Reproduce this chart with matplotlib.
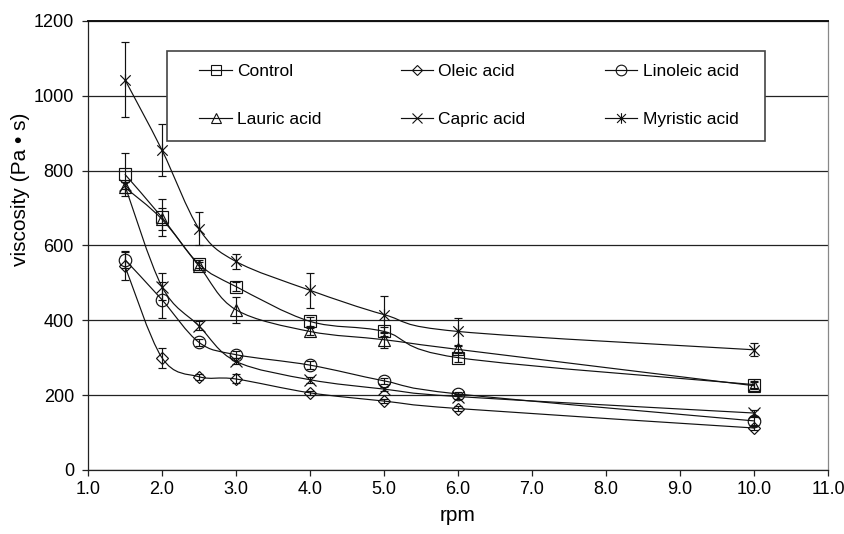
import numpy as np
import matplotlib
matplotlib.use("Agg")
import matplotlib.pyplot as plt
from matplotlib.path import Path
from matplotlib.patches import PathPatch, Rectangle
from matplotlib.lines import Line2D

plt.rcParams['font.family'] = ['Liberation Sans', 'DejaVu Sans']

# data
rpm = [1.5, 2.0, 2.5, 3.0, 4.0, 5.0, 6.0, 10.0]

control = [790, 675, 550, 490, 397, 370, 300, 228]
control_err = [57, 50, 10, 12, 12, 12, 12, 10]

oleic = [545, 300, 249, 243, 206, 184, 164, 112]
oleic_err = [38, 27, 8, 12, 6, 6, 6, 6]

linoleic = [562, 455, 341, 308, 280, 238, 203, 131]
linoleic_err = [22, 48, 10, 10, 10, 8, 6, 10]

lauric = [755, 670, 545, 428, 370, 348, 322, 225]
lauric_err = [15, 30, 10, 35, 10, 21, 10, 10]

capric = [760, 490, 385, 290, 241, 216, 196, 152]
capric_err = [10, 37, 12, 8, 8, 6, 6, 8]

myristic = [1043, 855, 645, 557, 480, 415, 370, 321]
myristic_err = [100, 70, 45, 19, 47, 50, 35, 17]

names = ['Control', 'Oleic acid', 'Linoleic acid',
         'Lauric acid', 'Capric acid', 'Myristic acid']

# x with a vertical bar, like the spreadsheet "star" marker
star = Path([(-1, -1), (1, 1), (-1, 1), (1, -1), (0, -1.2), (0, 1.2)],
            [Path.MOVETO, Path.LINETO, Path.MOVETO, Path.LINETO,
             Path.MOVETO, Path.LINETO])


def smooth_path(xs, ys, t=1.0 / 6):
    pts = np.column_stack([xs, ys]).astype(float)
    n = len(pts)
    verts = [pts[0]]
    codes = [Path.MOVETO]
    for i in range(n - 1):
        p0 = pts[max(i - 1, 0)]
        p1 = pts[i]
        p2 = pts[i + 1]
        p3 = pts[min(i + 2, n - 1)]
        verts += [p1 + (p2 - p0) * t, p2 - (p3 - p1) * t, p2]
        codes += [Path.CURVE4] * 3
    return Path(verts, codes)


series = [
    (control, control_err, 's', 9),
    (oleic, oleic_err, 'D', 6.5),
    (linoleic, linoleic_err, 'o', 9),
    (lauric, lauric_err, '^', 9),
    (capric, capric_err, 'x', 8),
    (myristic, myristic_err, star, 9),
]

fig = plt.figure(figsize=(8.45, 5.34), dpi=100)
ax = fig.add_axes([0.104, 0.120, 0.876, 0.841])

handles = []
for (vals, err, mk, ms), name in zip(series, names):
    ax.add_patch(PathPatch(smooth_path(rpm, vals), fill=False,
                           edgecolor='#111111', lw=0.85, zorder=3))
    ax.errorbar(rpm, vals, yerr=err, fmt='none', ecolor='#111111',
                elinewidth=0.85, capsize=3, capthick=0.85, zorder=4)
    ax.plot(rpm, vals, linestyle='none', marker=mk, markersize=ms,
            markerfacecolor='none', markeredgecolor='#111111',
            markeredgewidth=0.85, zorder=5)
    handles.append(Line2D([], [], color='#111111', lw=0.85, marker=mk,
                          markersize=ms * 0.85, markerfacecolor='none',
                          markeredgecolor='#111111', markeredgewidth=0.8,
                          label=name))

ax.set_xlim(1.0, 11.0)
ax.set_ylim(0, 1200)
ax.set_xticks(np.arange(1, 12, 1))
ax.set_xticklabels(['%.1f' % v for v in np.arange(1, 12, 1)])
ax.set_yticks(np.arange(0, 1201, 200))
ax.yaxis.grid(True, color='#222222', lw=0.9)
ax.set_axisbelow(True)

for side in ['left', 'bottom']:
    ax.spines[side].set_color('#222222')
    ax.spines[side].set_linewidth(0.9)
ax.spines['top'].set_color('#111111')
ax.spines['top'].set_linewidth(1.4)
ax.spines['right'].set_color('#888888')
ax.spines['right'].set_linewidth(0.9)

ax.tick_params(axis='both', direction='out', length=4, width=0.9,
               color='#222222', labelsize=13, pad=4)
ax.tick_params(axis='y', pad=6)
ax.set_xlabel('rpm', fontsize=15, labelpad=6)
ax.set_ylabel('viscosity (Pa \u2022 s)', fontsize=15)
ax.yaxis.set_label_coords(-0.078, 0.624)

# legend frame drawn on its own so its padding can follow the picture
box = Rectangle((0.107, 0.733), 0.808, 0.200, transform=ax.transAxes,
                facecolor='white', edgecolor='#444444', lw=1.2, zorder=6)
ax.add_patch(box)
order = [0, 3, 1, 4, 2, 5]
leg = ax.legend([handles[i] for i in order], [names[i] for i in order],
                ncol=3, frameon=False, loc='center',
                bbox_to_anchor=(0.515, 0.834), fontsize=12.5,
                handlelength=1.85, handletextpad=0.3, columnspacing=4.6,
                labelspacing=1.85)
leg.set_zorder(7)

fig.savefig('out.png', dpi=100)
